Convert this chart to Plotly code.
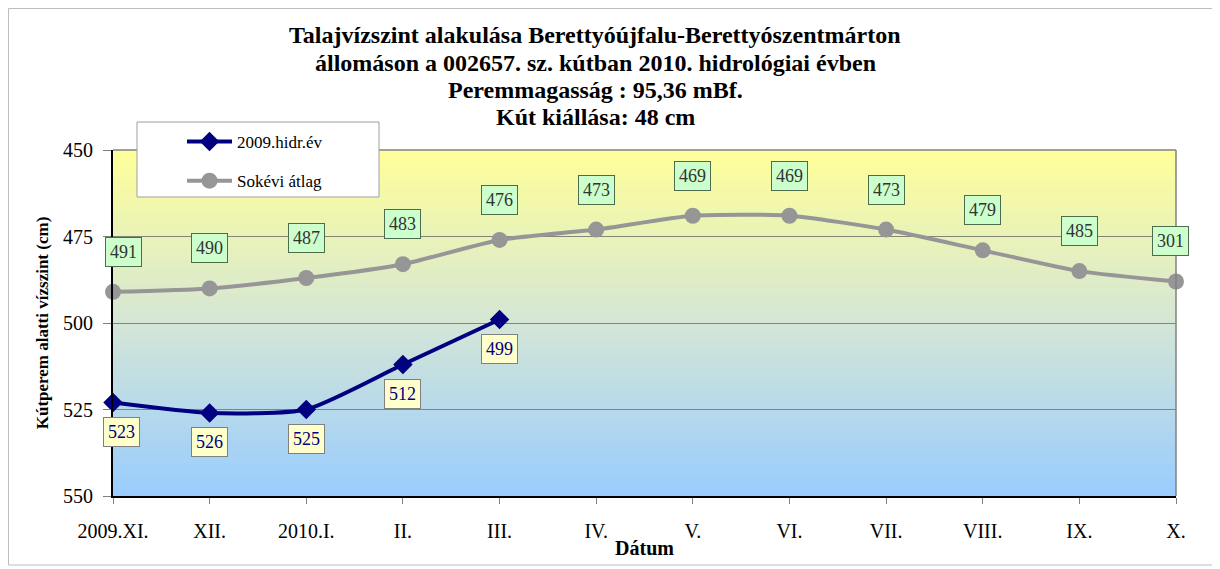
import plotly.graph_objects as go

months = ["2009.XI.", "XII.", "2010.I.", "II.", "III.", "IV.", "V.", "VI.", "VII.", "VIII.", "IX.", "X."]
hidr_2009 = [523, 526, 525, 512, 499]
sokevi = [491, 490, 487, 483, 476, 473, 469, 469, 473, 479, 485, 488]
sokevi_labels = ["491", "490", "487", "483", "476", "473", "469", "469", "473", "479", "485", "301"]
hidr_labels = ["523", "526", "525", "512", "499"]
title_lines = ["Talajvízszint alakulása Berettyóújfalu-Berettyószentmárton",
               "állomáson a 002657. sz. kútban 2010. hidrológiai évben",
               "Peremmagasság : 95,36 mBf.",
               "Kút kiállása: 48 cm"]

FONT = "Liberation Serif, Times New Roman, serif"

# page-pixel helpers (page has an 8px body margin; plot area spans 113..1176 x 150..496)
PL, PR, PT, PB = 113, 1176, 150, 496
def px(x):
    return (x - PL) / (PR - PL)
def py(y):
    return (PB - y) / (PB - PT)

fig = go.Figure()
fig.add_trace(go.Scatter(
    x=months[:len(hidr_2009)], y=hidr_2009, name="2009.hidr.év", legendgroup="a",
    mode="lines+markers", line=dict(color="#000080", width=4, shape="spline", smoothing=0.6),
    marker=dict(symbol="diamond", size=15, color="#000080"), cliponaxis=False))
fig.add_trace(go.Scatter(
    x=months, y=sokevi, name="Sokévi átlag", legendgroup="b",
    mode="lines+markers", line=dict(color="#969696", width=4, shape="spline", smoothing=0.6),
    marker=dict(symbol="circle", size=16, color="#969696"), cliponaxis=False))

# gradient background
def lerp(c1, c2, t):
    return tuple(round(a + (b - a) * t) for a, b in zip(c1, c2))

top = (255, 255, 153)
mid = (212, 230, 214)
bot = (153, 204, 255)
shapes = []
N = 80
for i in range(N):
    t = (i + 0.5) / N
    c = lerp(top, mid, t / 0.5) if t < 0.5 else lerp(mid, bot, (t - 0.5) / 0.5)
    shapes.append(dict(type="rect", xref="x domain", yref="y domain",
                       x0=0, x1=1, y0=1 - i / N, y1=1 - (i + 1) / N - 0.002,
                       fillcolor="rgb(%d,%d,%d)" % c, line=dict(width=0), layer="below"))
# plot-area top and right borders
shapes.append(dict(type="line", xref="x domain", yref="y domain", x0=0, x1=1, y0=1, y1=1,
                   line=dict(color="#808080", width=1.5)))
shapes.append(dict(type="line", xref="x domain", yref="y domain", x0=1, x1=1, y0=0, y1=1,
                   line=dict(color="#808080", width=1.5)))
# outer chart frame
shapes.append(dict(type="rect", xref="paper", yref="paper",
                   x0=px(8.5), x1=px(1213), y0=py(565), y1=py(8.5),
                   line=dict(color="#BDBDBD", width=1)))
# legend box
shapes.append(dict(type="rect", xref="paper", yref="paper",
                   x0=px(137), x1=px(379), y0=py(197), y1=py(122),
                   fillcolor="white", line=dict(color="#A0A0A0", width=1), layer="above"))

annotations = []
for i, (v, lab) in enumerate(zip(sokevi, sokevi_labels)):
    xs = 10 if i == 0 else (-6 if i == len(sokevi) - 1 else 0)
    annotations.append(dict(x=months[i], y=v, text=lab, showarrow=False, yshift=40, xshift=xs,
                            bgcolor="#CCFFCC", bordercolor="#4D6B4D", borderwidth=1, borderpad=4,
                            font=dict(family=FONT, size=18, color="#333333")))
for i, (v, lab) in enumerate(zip(hidr_2009, hidr_labels)):
    xs = 8 if i == 0 else 0
    annotations.append(dict(x=months[i], y=v, text=lab, showarrow=False, yshift=-29, xshift=xs,
                            bgcolor="#FFFFCC", bordercolor="#808080", borderwidth=1, borderpad=4,
                            font=dict(family=FONT, size=18, color="#000080")))
for line, yc in zip(title_lines, [35, 63, 90, 117]):
    annotations.append(dict(xref="paper", yref="paper", x=px(595), y=py(yc),
                            xanchor="center", yanchor="middle", showarrow=False,
                            text="<b>%s</b>" % line,
                            font=dict(family=FONT, size=24, color="black")))

fig.update_layout(
    width=1212, height=561,
    margin=dict(l=105, r=44, t=142, b=73),
    paper_bgcolor="white", plot_bgcolor="rgba(0,0,0,0)",
    font=dict(family=FONT, size=16, color="black"),
    showlegend=True,
    legend=dict(x=px(182), y=py(124), xanchor="left", yanchor="top",
                bgcolor="rgba(0,0,0,0)", borderwidth=0,
                font=dict(family=FONT, size=17, color="black"),
                tracegroupgap=14, itemwidth=45, traceorder="grouped"),
    shapes=shapes, annotations=annotations,
)
fig.update_xaxes(type="category", categoryorder="array", categoryarray=months,
                 range=[0, 11], showgrid=False, showline=True, linecolor="black", linewidth=2,
                 ticks="outside", ticklen=6, tickcolor="#808080", ticklabelstandoff=10,
                 tickfont=dict(family=FONT, size=20), zeroline=False,
                 title=dict(text="<b>Dátum</b>", font=dict(family=FONT, size=20), standoff=0))
fig.update_yaxes(range=[550, 450], tickvals=[450, 475, 500, 525, 550],
                 showgrid=True, gridcolor="#858575", gridwidth=1,
                 showline=True, linecolor="black", linewidth=2,
                 ticks="outside", ticklen=8, tickcolor="#808080", ticklabelstandoff=6,
                 tickfont=dict(family=FONT, size=20), zeroline=False,
                 title=dict(text="<b>Kútperem alatti vízszint (cm)</b>", font=dict(family=FONT, size=17), standoff=10))

fig.write_html("out.html")
